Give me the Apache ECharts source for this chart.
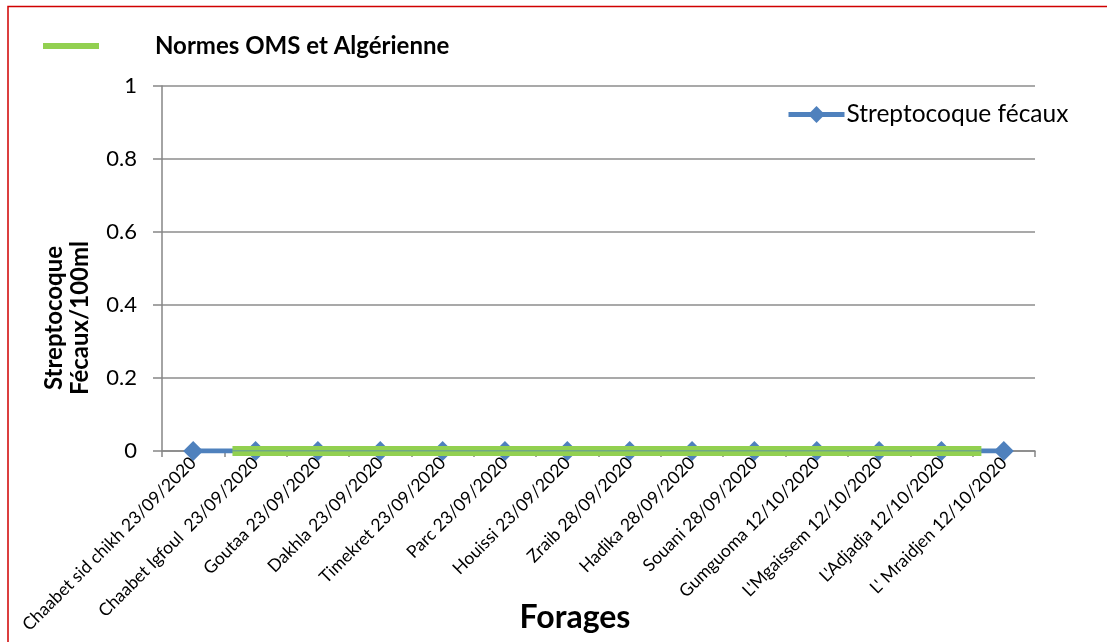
<!DOCTYPE html>
<html>
<head>
<meta charset="utf-8">
<script src="https://cdn.jsdelivr.net/npm/echarts@6/dist/echarts.min.js"></script>
<style>
  html, body { margin: 0; padding: 0; background: #fff; }
  #chart { width: 1107px; height: 642px; }
</style>
</head>
<body>
<div id="chart"></div>
<script>
// Sampling points (boreholes with sampling date)
const forages = [
  "Chaabet sid chikh 23/09/2020",
  "Chaabet Igfoul  23/09/2020",
  "Goutaa 23/09/2020",
  "Dakhla 23/09/2020",
  "Timekret 23/09/2020",
  "Parc 23/09/2020",
  "Houissi 23/09/2020",
  "Zraib 28/09/2020",
  "Hadika 28/09/2020",
  "Souani 28/09/2020",
  "Gumguoma 12/10/2020",
  "L'Mgaissem 12/10/2020",
  "L'Adjadja 12/10/2020",
  "L' Mraidjen 12/10/2020"
];

// Faecal streptococci counts (per 100 ml)
const streptocoque = [0, 0, 0, 0, 0, 0, 0, 0, 0, 0, 0, 0, 0, 0];

// WHO / Algerian standard: 0 per 100 ml, drawn as a band across the boreholes
const normeValeur = 0;
const normeDebut = 0.63;   // category position where the band starts
const normeFin = 12.64;    // category position where the band ends

const yTicks = [0, 0.2, 0.4, 0.6, 0.8, 1];

const FONT = "Lato, 'Open Sans', sans-serif";
const GRID = { left: 162, right: 72, top: 86, bottom: 191 };

const chart = echarts.init(document.getElementById('chart'), null, { renderer: 'canvas' });

const normeData = [[normeDebut, normeValeur], [normeFin, normeValeur]];

chart.setOption({
  animation: false,
  backgroundColor: '#ffffff',
  textStyle: { fontFamily: FONT, color: '#000' },
  grid: GRID,
  legend: [
    {
      data: ['Normes OMS et Algérienne'],
      left: 43, top: 34,
      padding: 0,
      itemWidth: 56, itemHeight: 6,
      icon: 'rect',
      textStyle: { fontFamily: FONT, fontSize: 24, fontWeight: 'bold', color: '#000', padding: [0, 0, 0, 51] },
      selectedMode: false
    },
    {
      data: ['Streptocoque fécaux'],
      left: 786, top: 102,
      padding: 0,
      itemWidth: 56, itemHeight: 21,
      lineStyle: { width: 5 },
      textStyle: { fontFamily: FONT, fontSize: 24.5, color: '#000', padding: [0, 0, 0, -3] },
      selectedMode: false
    }
  ],
  xAxis: [
    {
      type: 'category',
      data: forages,
      boundaryGap: true,
      axisLine: { lineStyle: { color: '#868686', width: 1.5 } },
      axisTick: { show: true, length: 6, alignWithLabel: false, lineStyle: { color: '#868686', width: 1.5 } },
      axisLabel: { rotate: 45, fontSize: 17.5, color: '#000', fontFamily: FONT, margin: 9, interval: 0 },
      splitLine: { show: false }
    },
    {
      // overlay scale for the standard band, aligned with the category slots
      type: 'value',
      min: -0.5, max: forages.length - 0.5,
      show: false
    }
  ],
  yAxis: {
    type: 'value',
    min: 0, max: 1, interval: 0.2,
    axisLine: { show: true, onZero: false, lineStyle: { color: '#868686', width: 1.5 } },
    axisTick: { show: true, length: 9, lineStyle: { color: '#868686', width: 1.5 } },
    axisLabel: {
      fontSize: 22, color: '#000', fontFamily: FONT, margin: 25,
      formatter: v => (yTicks.includes(Math.round(v * 10) / 10) ? String(Math.round(v * 10) / 10) : '')
    },
    splitLine: { show: true, lineStyle: { color: '#8c8c8c', width: 1.5 } }
  },
  series: [
    {
      name: 'Streptocoque fécaux',
      type: 'line',
      data: streptocoque,
      symbol: 'diamond',
      symbolSize: [20, 20],
      itemStyle: { color: '#4F81BD' },
      lineStyle: { color: '#4F81BD', width: 5 },
      z: 2
    },
    {
      name: 'Normes OMS et Algérienne',
      type: 'line',
      xAxisIndex: 1,
      data: normeData,
      symbol: 'none',
      itemStyle: { color: '#92D050' },
      lineStyle: { color: '#92D050', width: 10 },
      z: 3
    },
    {
      name: 'norme-axe',
      type: 'line',
      xAxisIndex: 1,
      data: normeData,
      symbol: 'none',
      lineStyle: { color: '#4F81BD', width: 1 },
      z: 4,
      silent: true
    }
  ],
  graphic: [
    {
      type: 'polyline',
      shape: { points: [[8, 700], [8, 6.5], [1200, 6.5]] },
      style: { stroke: '#D00000', lineWidth: 1.5, fill: null },
      silent: true
    },
    {
      type: 'text',
      x: 67, y: 318,
      rotation: Math.PI / 2,
      style: {
        text: 'Streptocoque\nFécaux/100ml',
        font: 'bold 24px ' + FONT,
        fill: '#000',
        textAlign: 'center',
        textVerticalAlign: 'middle',
        lineHeight: 26
      }
    },
    {
      type: 'text',
      x: 575, y: 618,
      style: {
        text: 'Forages',
        font: 'bold 32px ' + FONT,
        fill: '#000',
        textAlign: 'center',
        textVerticalAlign: 'middle'
      }
    }
  ]
});
</script>
</body>
</html>
